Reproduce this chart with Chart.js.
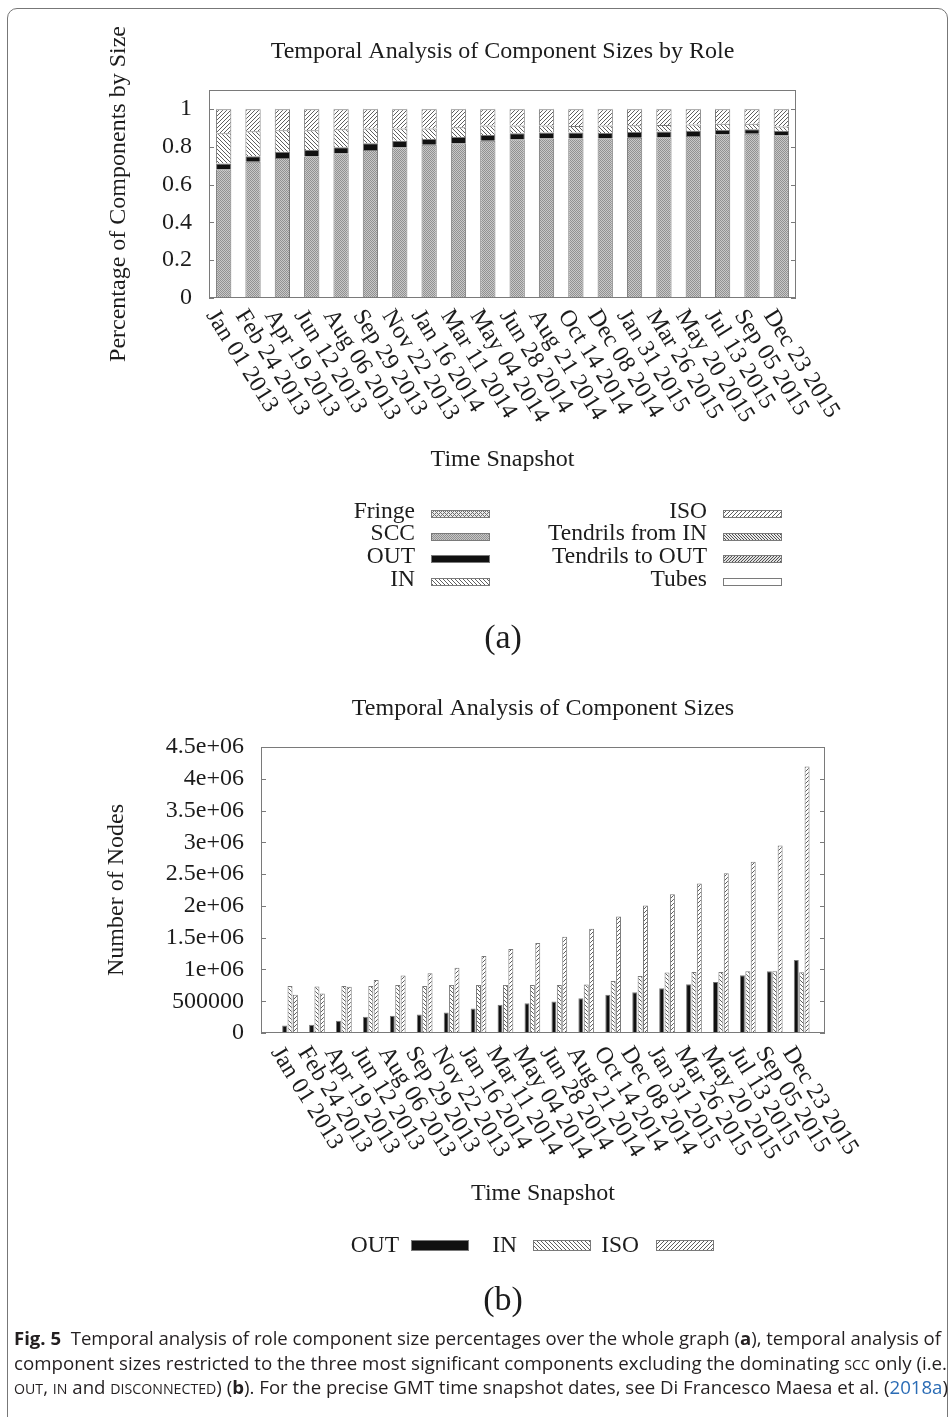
<!DOCTYPE html>
<html><head><meta charset="utf-8">
<script src="https://cdn.jsdelivr.net/npm/chart.js@4.4.1/dist/chart.umd.min.js"></script>
<style>
html,body{margin:0;padding:0;background:#fff;}
#fig{position:relative;width:952px;height:1417px;overflow:hidden;background:#fff;}
#frame{position:absolute;left:7px;top:8px;width:941px;height:1430px;border:1px solid #777;border-radius:10px;box-sizing:border-box;}
canvas{position:absolute;left:0;}
#c1{top:0;}
#c2{top:660px;}
.cap{position:absolute;left:14px;white-space:nowrap;font-family:"Open Sans";font-size:18.5px;line-height:24.6px;color:#231f20;transform-origin:0 0;}
.sc{font-size:0.76em;}
.bl{color:#2b6cb5;}
</style></head>
<body><div id="fig">
<div id="frame"></div>
<canvas id="c1" width="952" height="660"></canvas>
<canvas id="c2" width="952" height="680"></canvas>
<div class="cap" id="l1" style="top:1326px" data-w="927"><b>Fig. 5</b>&nbsp; Temporal analysis of role component size percentages over the whole graph (<b>a</b>), temporal analysis of</div>
<div class="cap" id="l2" style="top:1350.6px" data-w="933">component sizes restricted to the three most significant components excluding the dominating <span class="sc">SCC</span> only (i.e.</div>
<div class="cap" id="l3" style="top:1375.2px" data-w="934"><span class="sc">OUT</span>, <span class="sc">IN</span> and <span class="sc">DISCONNECTED</span>) (<b>b</b>). For the precise GMT time snapshot dates, see Di Francesco Maesa et al. (<span class="bl">2018a</span>)</div>
</div>
<script>
// ---------- DATA ----------
const dates = ["Jan 01 2013","Feb 24 2013","Apr 19 2013","Jun 12 2013","Aug 06 2013","Sep 29 2013","Nov 22 2013","Jan 16 2014","Mar 11 2014","May 04 2014","Jun 28 2014","Aug 21 2014","Oct 14 2014","Dec 08 2014","Jan 31 2015","Mar 26 2015","May 20 2015","Jul 13 2015","Sep 05 2015","Dec 23 2015"];

// (a) fractions per role, stacked bottom to top
const fringeA      = [0.002,0.002,0.002,0.002,0.002,0.002,0.002,0.002,0.002,0.002,0.002,0.002,0.002,0.002,0.002,0.002,0.002,0.002,0.002,0.002];
const sccA         = [0.679,0.719,0.739,0.746,0.763,0.781,0.795,0.809,0.816,0.829,0.837,0.841,0.841,0.841,0.845,0.848,0.855,0.864,0.866,0.859];
const outA         = [0.030,0.029,0.033,0.035,0.032,0.035,0.034,0.030,0.034,0.031,0.032,0.032,0.032,0.030,0.031,0.030,0.028,0.023,0.024,0.024];
const inA          = [0.160,0.132,0.113,0.104,0.095,0.079,0.066,0.055,0.051,0.050,0.041,0.037,0.035,0.039,0.036,0.035,0.033,0.032,0.029,0.022];
const isoA         = [0.127,0.116,0.111,0.111,0.106,0.101,0.101,0.102,0.095,0.086,0.086,0.086,0.088,0.086,0.084,0.083,0.080,0.077,0.077,0.091];
const tendrilsInA  = [0.001,0.001,0.001,0.001,0.001,0.001,0.001,0.001,0.001,0.001,0.001,0.001,0.001,0.001,0.001,0.001,0.001,0.001,0.001,0.001];
const tendrilsOutA = [0.001,0.001,0.001,0.001,0.001,0.001,0.001,0.001,0.001,0.001,0.001,0.001,0.001,0.001,0.001,0.001,0.001,0.001,0.001,0.001];
const tubesA       = [0.0005,0.0005,0.0005,0.0005,0.0005,0.0005,0.0005,0.0005,0.0005,0.0005,0.0005,0.0005,0.0005,0.0005,0.0005,0.0005,0.0005,0.0005,0.0005,0.0005];
const yTicksA = ["0","0.2","0.4","0.6","0.8","1"];

// (b) number of nodes
const outB = [119000,130000,193000,255000,271000,292000,323000,386000,444000,470000,496000,548000,600000,643000,705000,768000,804000,909000,972000,1149000];
const inB  = [741000,730000,741000,741000,757000,741000,757000,757000,757000,757000,757000,762000,820000,898000,950000,961000,961000,972000,972000,956000];
const isoB = [600000,621000,726000,835000,903000,940000,1028000,1212000,1321000,1415000,1514000,1640000,1834000,2006000,2183000,2351000,2512000,2696000,2951000,4194000];
const yTicksB = ["0","500000","1e+06","1.5e+06","2e+06","2.5e+06","3e+06","3.5e+06","4e+06","4.5e+06"];

// ---------- STYLE ----------
const SERIF = '"Liberation Serif", "Times New Roman", serif';
const TXT = '#1c1c1c';
const EDGE = '#7a7a7a';
const LABEL_ANGLE = 58 * Math.PI / 180;

function pat(size, fn){
  const c = document.createElement('canvas'); c.width = c.height = size;
  const g = c.getContext('2d'); const img = g.createImageData(size,size);
  for(let y=0;y<size;y++) for(let x=0;x<size;x++){
    const v = fn(x,y); const k=(y*size+x)*4;
    img.data[k]=img.data[k+1]=img.data[k+2]=v; img.data[k+3]=255;
  }
  g.putImageData(img,0,0);
  return g.createPattern(c,'repeat');
}
const P = {
  fringe: pat(4,(x,y)=> ((x+y)%4===0 || ((x-y+8)%4===0)) ? 110 : 235),
  scc:    pat(2,(x,y)=> ((x+y)%2===0) ? 145 : 200),
  out:    '#111111',
  inn:    pat(4,(x,y)=> ((x-y+8)%4===0) ? 95 : 255),
  iso:    pat(4,(x,y)=> ((x+y)%4===0) ? 95 : 255),
  tin:    pat(3,(x,y)=> ((x-y+9)%3===0) ? 80 : 235),
  tout:   pat(3,(x,y)=> ((x+y)%3===0) ? 80 : 225),
  tubes:  '#ffffff'
};

function drawFrameAndTicks(chart, tickVals, len){
  const {ctx, chartArea:a, scales:{y}} = chart;
  ctx.save();
  ctx.strokeStyle = EDGE; ctx.lineWidth = 1;
  ctx.strokeRect(Math.round(a.left)+0.5, Math.round(a.top)+0.5, Math.round(a.right-a.left)-1, Math.round(a.bottom-a.top)-1);
  tickVals.forEach(v=>{
    const py = Math.round(y.getPixelForValue(v))+0.5;
    ctx.beginPath();
    ctx.moveTo(a.left, py); ctx.lineTo(a.left+len, py);
    ctx.moveTo(a.right-len, py); ctx.lineTo(a.right, py);
    ctx.stroke();
  });
  ctx.restore();
}
function drawXLabels(chart, labels, vals, dx, dy){
  const {ctx, chartArea:a, scales:{x}} = chart;
  ctx.save();
  ctx.font = '24px ' + SERIF; ctx.fillStyle = TXT;
  ctx.textAlign = 'left'; ctx.textBaseline = 'top';
  labels.forEach((lab,i)=>{
    const px = x.getPixelForValue(vals[i]);
    ctx.save(); ctx.translate(px+dx, a.bottom+dy); ctx.rotate(LABEL_ANGLE);
    ctx.fillText(lab,0,0); ctx.restore();
  });
  ctx.restore();
}
function swatch(ctx, fill, x, y, w, h){
  ctx.fillStyle = fill; ctx.fillRect(x, y, w, h);
  ctx.strokeStyle = EDGE; ctx.lineWidth = 1; ctx.strokeRect(x+0.5, y+0.5, w-1, h-1);
}

const idx = dates.map((d,i)=>i);

// ---------- CHART (a) ----------
const ctx1 = document.getElementById('c1').getContext('2d');
const dsA = [
  ['Fringe', fringeA, P.fringe], ['SCC', sccA, P.scc], ['OUT', outA, P.out], ['IN', inA, P.inn],
  ['ISO', isoA, P.iso], ['Tendrils from IN', tendrilsInA, P.tin], ['Tendrils to OUT', tendrilsOutA, P.tout], ['Tubes', tubesA, P.tubes]
].map(([label,data,bg])=>({label, data, backgroundColor:bg, borderColor:EDGE, borderWidth:1, categoryPercentage:1, barPercentage:0.52}));

const plugA = {
  id:'plugA',
  afterDraw(chart){
    const {ctx, chartArea:a} = chart;
    drawFrameAndTicks(chart, [0,0.2,0.4,0.6,0.8,1], 5);
    drawXLabels(chart, dates, idx, -2.5, 7.5);
    ctx.save();
    ctx.fillStyle = TXT; ctx.textBaseline = 'alphabetic';
    ctx.font = '24px ' + SERIF; ctx.textAlign = 'center';
    ctx.fillText('Temporal Analysis of Component Sizes by Role', (a.left+a.right)/2, 58);
    ctx.font = '23.5px ' + SERIF; ctx.textAlign = 'right';
    chart.data.datasets.forEach((d,i)=>{
      const col = Math.floor(i/4), row = i%4;
      const base = 517.5 + row*22.7;
      ctx.fillStyle = TXT;
      ctx.fillText(d.label, col ? 707 : 415, base);
      swatch(ctx, d.backgroundColor, col ? 723 : 431, Math.round(base-7.5), 59, 8);
    });
    ctx.fillStyle = TXT; ctx.textAlign = 'center';
    ctx.font = '34px ' + SERIF;
    ctx.fillText('(a)', 503, 648);
    ctx.restore();
  }
};

new Chart(ctx1, {
  type:'bar',
  data:{labels:dates, datasets:dsA},
  options:{
    responsive:false, animation:false, devicePixelRatio:1,
    layout:{padding:{top:90,left:0,right:156,bottom:186}},
    plugins:{legend:{display:false}, title:{display:false}, tooltip:{enabled:false}},
    scales:{
      x:{stacked:true, grid:{display:false, drawTicks:false}, border:{display:false},
         ticks:{display:false},
         afterFit(s){ s.height = 176; },
         title:{display:true, text:'Time Snapshot', color:TXT, font:{family:SERIF, size:24}, padding:0}},
      y:{stacked:true, min:0, max:1.1, grid:{display:false, drawTicks:false}, border:{display:false},
         ticks:{stepSize:0.2, includeBounds:false, autoSkip:false, padding:17, color:TXT, font:{family:SERIF, size:24},
                callback:(v)=> yTicksA[Math.round(v/0.2)]},
         afterFit(s){ s.width = 209; },
         title:{display:true, text:'Percentage of Components by Size', color:TXT, font:{family:SERIF, size:24}, padding:{top:104.6,bottom:0}}}
    }
  },
  plugins:[plugA]
});

// ---------- CHART (b) ----------
const ctx2 = document.getElementById('c2').getContext('2d');
const dsB = [['OUT', outB, P.out], ['IN', inB, P.inn], ['ISO', isoB, P.iso]]
  .map(([label,data,bg])=>({label, data:data.map((v,i)=>({x:idx[i], y:v})), backgroundColor:bg, borderColor:EDGE, borderWidth:1,
        categoryPercentage:0.6, barPercentage:0.92}));

const plugB = {
  id:'plugB',
  afterDraw(chart){
    const {ctx, chartArea:a} = chart;
    drawFrameAndTicks(chart, [0,500000,1000000,1500000,2000000,2500000,3000000,3500000,4000000,4500000], 5);
    drawXLabels(chart, dates, idx, -4, 9.5);
    ctx.save();
    ctx.fillStyle = TXT; ctx.textBaseline = 'alphabetic';
    ctx.font = '24px ' + SERIF; ctx.textAlign = 'center';
    ctx.fillText('Temporal Analysis of Component Sizes', (a.left+a.right)/2, 55);
    ctx.font = '23.5px ' + SERIF; ctx.textAlign = 'right';
    const tx = [399, 517, 639], sx = [411, 533, 656];
    chart.data.datasets.forEach((d,i)=>{
      ctx.fillStyle = TXT;
      ctx.fillText(d.label, tx[i], 591.7);
      swatch(ctx, d.backgroundColor, sx[i], 580, 58, 11);
    });
    ctx.fillStyle = TXT; ctx.textAlign = 'center';
    ctx.font = '34px ' + SERIF;
    ctx.fillText('(b)', 503, 650);
    ctx.restore();
  }
};

new Chart(ctx2, {
  type:'bar',
  data:{datasets:dsB},
  options:{
    responsive:false, animation:false, devicePixelRatio:1,
    layout:{padding:{top:87,left:0,right:127,bottom:132}},
    plugins:{legend:{display:false}, title:{display:false}, tooltip:{enabled:false}},
    scales:{
      x:{type:'linear', min:-1.077, max:19.866, offset:false, grid:{display:false, drawTicks:false}, border:{display:false},
         ticks:{display:false},
         afterFit(s){ s.height = 175; },
         title:{display:true, text:'Time Snapshot', color:TXT, font:{family:SERIF, size:24}, padding:0}},
      y:{min:0, max:4500000, grid:{display:false, drawTicks:false}, border:{display:false},
         ticks:{stepSize:500000, autoSkip:false, padding:17, color:TXT, font:{family:SERIF, size:24},
                callback:(v)=> yTicksB[Math.round(v/500000)]},
         afterFit(s){ s.width = 261; },
         title:{display:true, text:'Number of Nodes', color:TXT, font:{family:SERIF, size:24}, padding:{top:102.6,bottom:0}}}
    }
  },
  plugins:[plugB]
});

// ---------- caption fitting ----------
function fitCaption(){
  document.querySelectorAll('.cap').forEach(el=>{
    el.style.transform = 'none';
    const w = el.getBoundingClientRect().width;
    const t = parseFloat(el.dataset.w);
    el.style.transform = 'scaleX(' + (t/w) + ')';
  });
}
fitCaption();
if (document.fonts && document.fonts.ready) document.fonts.ready.then(fitCaption);
</script>
</body></html>
